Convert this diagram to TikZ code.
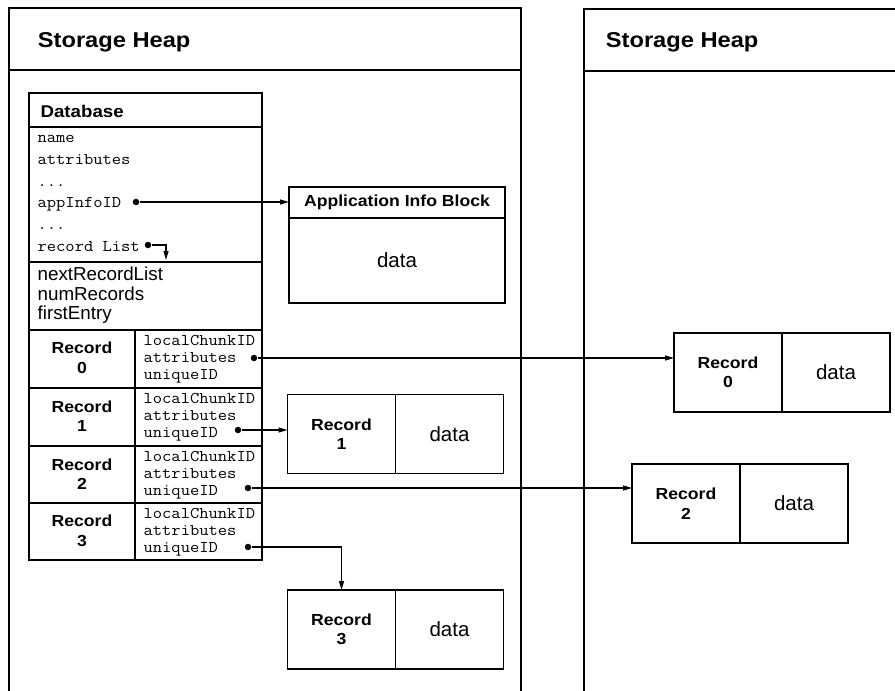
\documentclass[tikz,border=0pt]{standalone}
\usepackage{fontspec}
\setmainfont{Liberation Sans}
\setmonofont{Latin Modern Mono}[FakeStretch=1.1]
\newfontfamily\headfont{Liberation Sans}[FakeStretch=1.1]
\usetikzlibrary{positioning,arrows.meta}

\begin{document}
\begin{tikzpicture}[x=1pt, y=-1pt, line width=1.2pt,
  heading/.style={font=\headfont\bfseries\fontsize{16}{19.5}\selectfont, align=center},
  field/.style={font=\ttfamily\fontsize{16.4}{17}\selectfont, anchor=base west, inner sep=0pt},
  plain/.style={font=\fontsize{18.8}{20}\selectfont, anchor=base west, inner sep=0pt},
  half/.style={draw, minimum width=108pt, minimum height=79pt, inner sep=0pt, outer sep=0pt},
  ptr/.style={-{Triangle[length=9pt,width=5pt]}},
  dot/.style={circle, fill, inner sep=0pt, minimum size=6.5pt}]

  \useasboundingbox (0,0) rectangle (895,691);

  % ---- the two heaps ----
  \draw (9,691) -- (9,8) -- (521,8) -- (521,691);
  \draw (9,70) -- (521,70);
  \draw (584,691) -- (584,9) -- (895,9);
  \draw (584,71) -- (895,71);
  \node[heading, font=\headfont\bfseries\fontsize{21.5}{24}\selectfont, anchor=base west] (heapL) at (34,47) {Storage Heap};
  \node[heading, font=\headfont\bfseries\fontsize{21.5}{24}\selectfont, anchor=base west] (heapR) at (602,47) {Storage Heap};

  % ---- database header ----
  \draw (29,93) rectangle (262,560);
  \draw (29,127) -- (262,127);
  \draw (29,262) -- (262,262);
  \foreach \y in {330, 388, 446, 503} {
    \draw (29,\y) -- (262,\y);
  }
  \draw (135,330) -- (135,560);
  \node[heading, font=\headfont\bfseries\fontsize{17}{19}\selectfont, anchor=base west, inner sep=0pt] (dbtitle) at (40,117) {Database};
  \node[field] (fname) at (37,142) {name};
  \node[field] (fattr) at (37,164) {attributes};
  \node[field] (fdots) at (37,186) {...};
  \node[field] (fapp) at (37,207) {appInfoID};
  \node[field] (fmore) at (37,229) {...};
  \node[field] (flist) at (37,251) {record List};
  \node[plain] (fnext) at (37,280) {nextRecordList};
  \node[plain] (fnum) at (37,300) {numRecords};
  \node[plain] (ffirst) at (37,319) {firstEntry};

  % ---- record list entries ----
  \foreach \r/\top in {0/330, 1/388, 2/446, 3/503} {
    \node[heading] (rl\r) at (82,\top+28) {Record\\\r};
    \node[field] (lc\r) at (143,\top+15) {localChunkID};
    \node[field] (at\r) at (143,\top+32) {attributes};
    \node[field] (id\r) at (143,\top+49) {uniqueID};
  }

  % ---- pointer dots ----
  \node[dot] (appdot) at (136,202) {};
  \node[dot] (listdot) at (148,245) {};
  \coordinate (listend) at (166,260);
  \node[dot] (d0) at (254,358) {};
  \node[dot] (d1) at (238,430) {};
  \node[dot] (d2) at (248,488) {};
  \node[dot] (d3) at (248,547) {};

  % ---- blocks ----
  \node[draw, heading, minimum width=216pt, minimum height=31pt, inner sep=0pt, outer sep=0pt] (aibtitle) at (397,202.5) {Application Info Block};
  \node[draw, minimum width=216pt, minimum height=85pt, outer sep=0pt, below=0pt of aibtitle, font=\fontsize{20.5}{22}\selectfont] (aibdata) {data};

  \node[half, heading] (rec0head) at (728,372.5) {Record\\0};
  \node[half, right=0pt of rec0head, font=\fontsize{20.5}{22}\selectfont] (rec0data) {data};
  \node[half, heading] (rec1head) at (341.5,434) {Record\\1};
  \node[half, right=0pt of rec1head, font=\fontsize{20.5}{22}\selectfont] (rec1data) {data};
  \node[half, heading] (rec2head) at (686,503.5) {Record\\2};
  \node[half, right=0pt of rec2head, font=\fontsize{20.5}{22}\selectfont] (rec2data) {data};
  \node[half, heading] (rec3head) at (341.5,629.5) {Record\\3};
  \node[half, right=0pt of rec3head, font=\fontsize{20.5}{22}\selectfont] (rec3data) {data};

  % ---- pointers ----
  \draw[ptr] (appdot) -- (appdot -| aibtitle.west);
  \draw[ptr] (listdot) -| (listend);
  \draw[ptr] (d0) -- (d0 -| rec0head.west);
  \draw[ptr] (d1) -- (d1 -| rec1head.west);
  \draw[ptr] (d2) -- (d2 -| rec2head.west);
  \draw[ptr] (d3) -| (rec3head.north);

\end{tikzpicture}
\end{document}
